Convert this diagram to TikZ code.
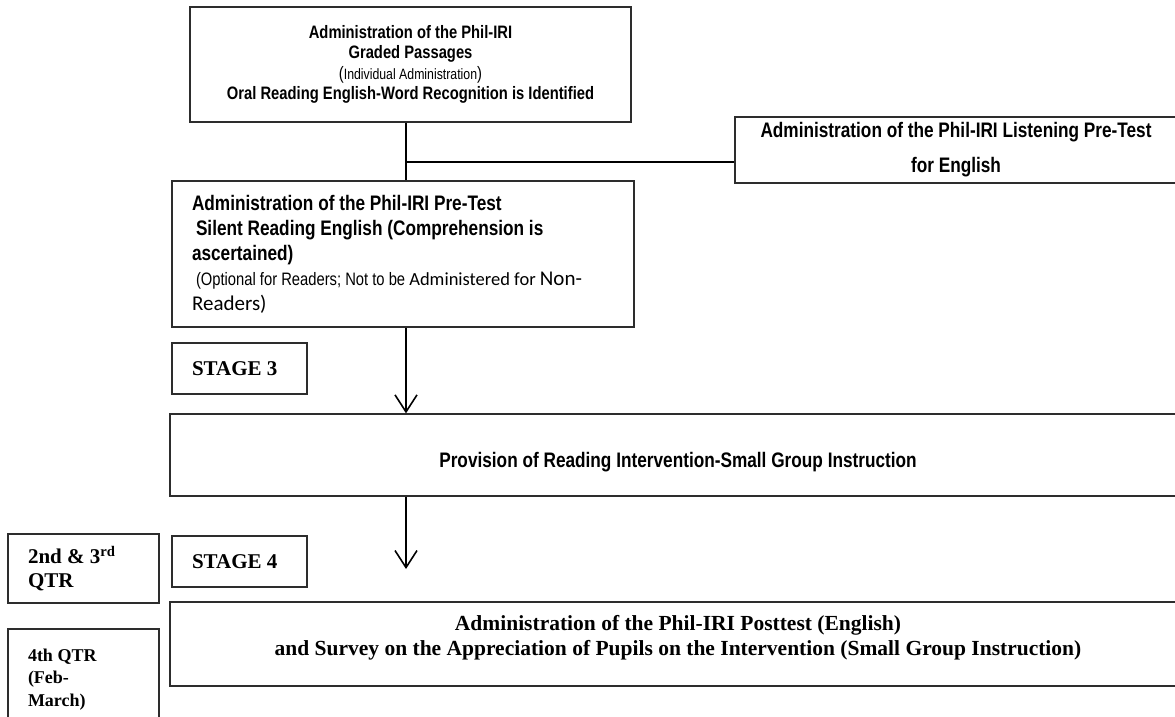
\documentclass[tikz,border=0pt]{standalone}
\usepackage{fontspec}
\setmainfont{Liberation Serif}
\newfontfamily\narrowfont{Liberation Sans}[FakeStretch=0.82]
\newfontfamily\calfont{Carlito}
\usetikzlibrary{arrows.meta}

\definecolor{boxline}{RGB}{45,45,45}
\newcommand{\sz}[2]{\fontsize{#1}{#2}\selectfont}

\tikzset{
  box/.style={draw=boxline, line width=1.3pt, rectangle, inner sep=0pt},
  leftbox/.style={box, align=flush left, inner xsep=20pt},
  flow/.style={line width=1.8pt, black},
  flowarrow/.style={flow, -{Straight Barb[length=17pt,width=22pt,line width=1.6pt]}},
}

\begin{document}
\begin{tikzpicture}[x=1pt,y=-1pt]
    \clip (0,0) rectangle (1175,717);
    \fill[white] (0,0) rectangle (1175,717);
    % stage boxes
    \node[box, minimum width=441pt, minimum height=115pt, align=center,
          font=\narrowfont\bfseries\sz{18}{20.5}] (graded) at (410.5,64.5)
          {Administration of the Phil-IRI\\Graded Passages\\
           {\mdseries(\sz{15}{20.5}Individual Administration\sz{18}{20.5})}\\
           Oral Reading English-Word Recognition is Identified};
    \node[box, minimum width=442pt, minimum height=66pt, align=center,
          font=\narrowfont\bfseries\sz{21}{35}] (listen) at (956,150)
          {Administration of the Phil-IRI Listening Pre-Test\\for English};
    \node[leftbox, text width=422pt, minimum height=146pt,
          font=\narrowfont\bfseries\sz{21}{25}] (silent) at (403,254)
          {Administration of the Phil-IRI Pre-Test\\
           \hspace*{4pt}Silent Reading English (Comprehension is\\
           ascertained)\\
           \hspace*{4pt}{\mdseries\sz{18}{25}(Optional for Readers; Not to be
           {\calfont\sz{18.5}{25}Administered for \sz{21}{25}Non-}}\\
           {\calfont\mdseries Readers)}};
    \node[leftbox, text width=95pt, minimum height=51pt,
          font=\bfseries\sz{21}{24}] (stage3) at (239.5,368.5) {STAGE 3};
    \node[box, minimum width=1016pt, minimum height=82pt] (prov) at (678,455) {};
    \node[font=\narrowfont\bfseries\sz{21}{24}, yshift=-7pt] (provtext) at (prov.center)
          {Provision of Reading Intervention-Small Group Instruction};
    \node[leftbox, text width=111pt, minimum height=69pt,
          font=\bfseries\sz{21}{24}] (qtr23) at (83.5,568.5)
          {2nd \& 3\textsuperscript{rd}\\QTR};
    \node[leftbox, text width=95pt, minimum height=51pt,
          font=\bfseries\sz{21}{24}] (stage4) at (239.5,561.5) {STAGE 4};
    \node[box, minimum width=1016pt, minimum height=84pt] (post) at (678,644) {};
    \node[font=\bfseries\sz{21.5}{25}, align=center, yshift=6pt] (posttext) at (post.center)
          {Administration of the Phil-IRI Posttest (English)\\
           and Survey on the Appreciation of Pupils on the Intervention (Small Group Instruction)};
    \node[leftbox, text width=111pt, minimum height=101pt,
          font=\bfseries\sz{18}{22.5}] (qtr4) at (83.5,679.5)
          {4th QTR\\(Feb-\\March)};
    % connectors
    \coordinate (spine) at (406,0);
    \coordinate (tee) at (406,162);
    \coordinate (stop) at (406,569);
    \draw[flow] (graded.south -| spine) -- (silent.north -| spine);
    \draw[flow] (tee) -- (tee -| listen.west);
    \draw[flowarrow] (silent.south -| spine) -- (prov.north -| spine);
    \draw[flowarrow] (prov.south -| spine) -- (stop);
\end{tikzpicture}
\end{document}
